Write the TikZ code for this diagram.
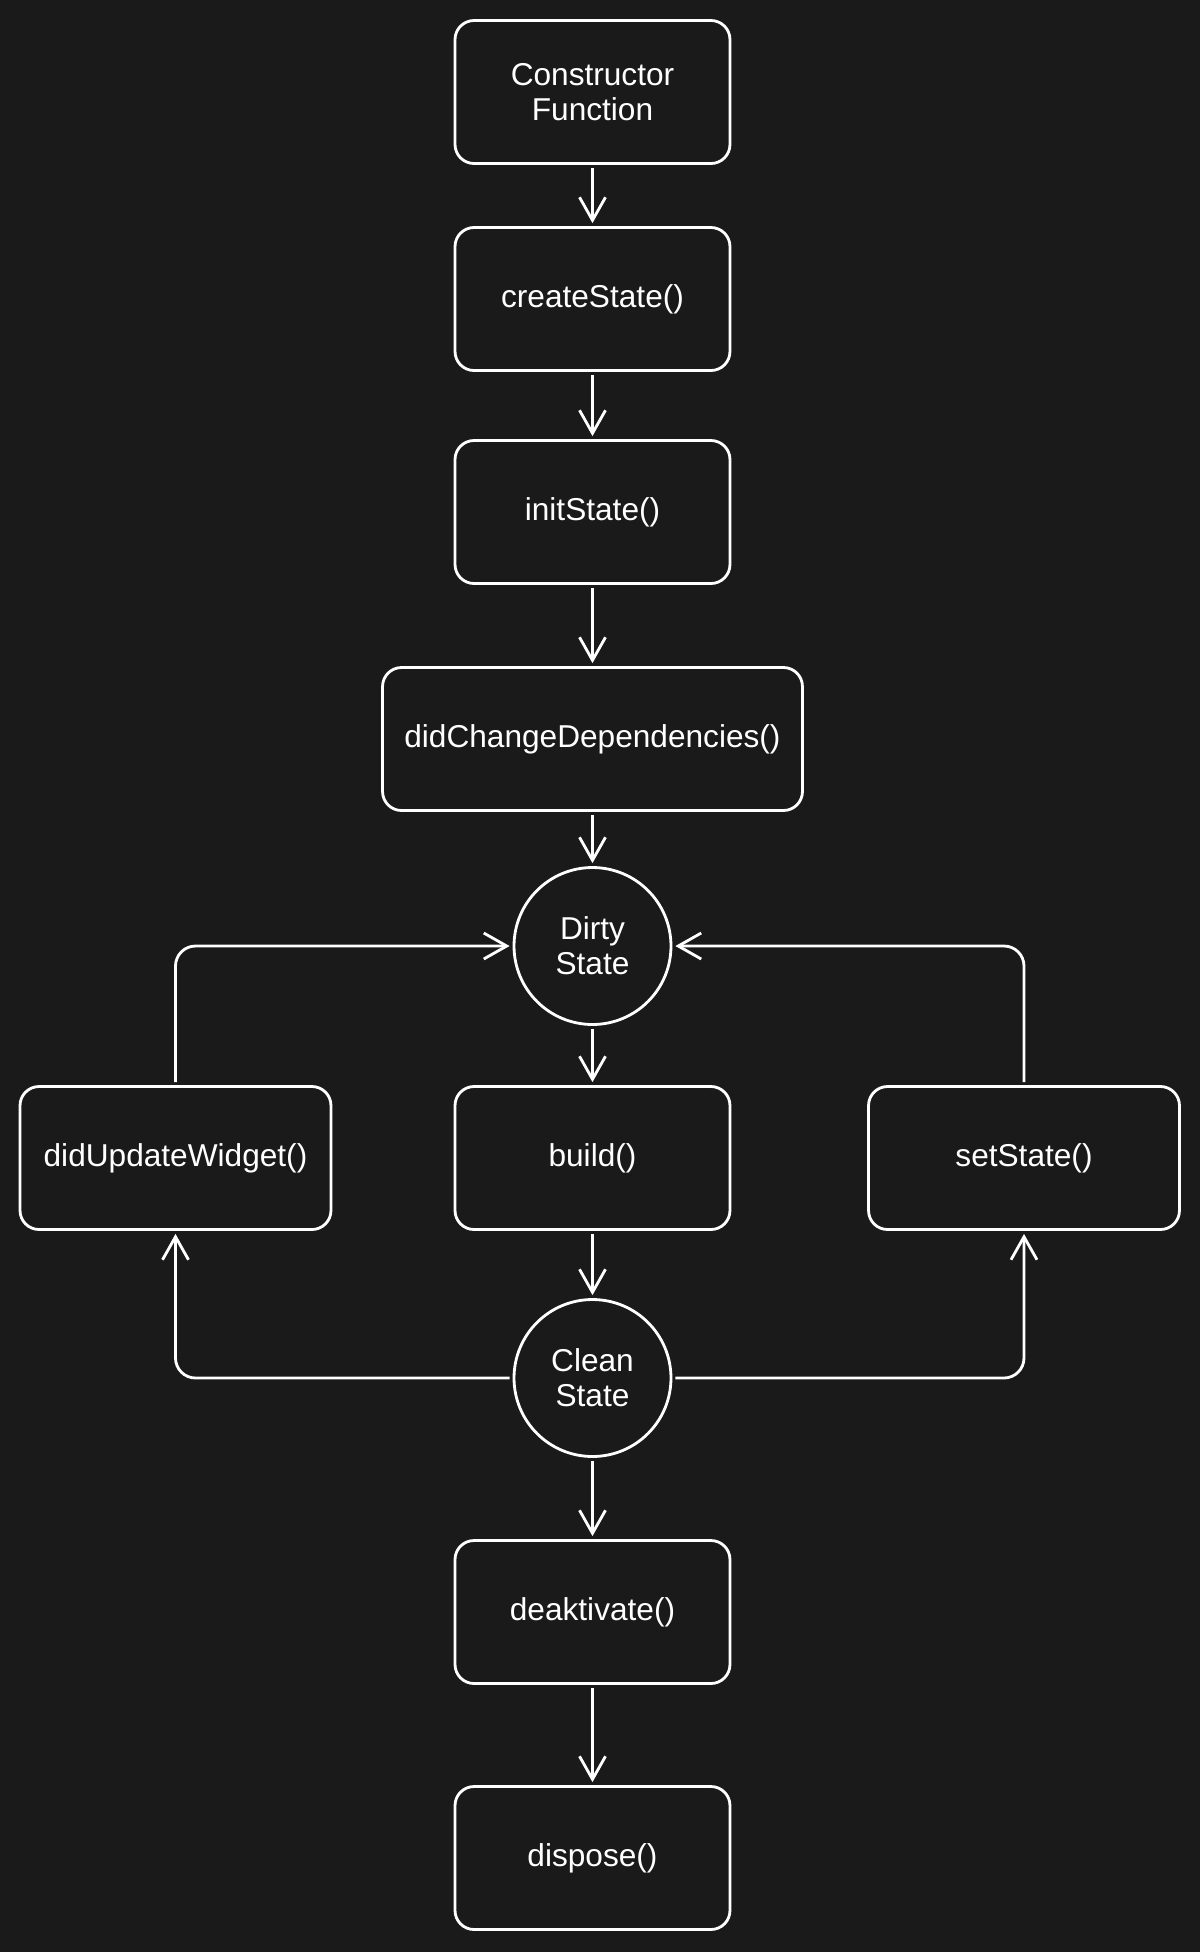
\documentclass[tikz,border=0pt]{standalone}
\usepackage{fontspec}
\setmainfont{Liberation Sans}
\usetikzlibrary{arrows.meta}
\definecolor{bgdark}{HTML}{1A1A1A}

\begin{document}
\begin{tikzpicture}[x=0.02cm, y=-0.02cm,
    every node/.style={text=white, font=\fontsize{18}{20}\selectfont},
    box/.style={draw=white, line width=1.6pt, rounded corners=0.38cm,
      minimum width=5.5cm, minimum height=2.86cm, align=center},
    statecirc/.style={draw=white, circle, line width=1.6pt,
      minimum size=3.14cm, inner sep=0pt, align=center},
    link/.style={draw=white, line width=1.6pt, rounded corners=0.4cm,
      shorten <=0.06cm, shorten >=0.06cm,
      -{Straight Barb[length=0.46cm, width=0.52cm, line width=1.6pt]}}]

      % background
      \fill[bgdark] (0,0) rectangle (1200,1952);

      % Setup chain
      \node[box] (ctor) at (592.5,92) {Constructor\\Function};
      \node[box] (create) at (592.5,299) {createState()};
      \node[box] (init) at (592.5,512) {initState()};
      \node[box, minimum width=8.4cm] (deps) at (592.5,739) {didChangeDependencies()};

      % States
      \node[statecirc] (dirty) at (592.5,946) {Dirty\\State};
      \node[statecirc] (clean) at (592.5,1378) {Clean\\State};

      % Middle row
      \node[box, minimum width=6.22cm] (update) at (175.5,1158) {didUpdateWidget()};
      \node[box] (build) at (592.5,1158) {build()};
      \node[box, minimum width=6.22cm] (setst) at (1024,1158) {setState()};

      % Teardown
      \node[box] (deact) at (592.5,1612) {deaktivate()};
      \node[box] (dispose) at (592.5,1858) {dispose()};

      % straight arrows
      \draw[link] (ctor) -- (create);
      \draw[link] (create) -- (init);
      \draw[link] (init) -- (deps);
      \draw[link] (deps) -- (dirty);
      \draw[link] (dirty) -- (build);
      \draw[link] (build) -- (clean);
      \draw[link] (clean) -- (deact);
      \draw[link] (deact) -- (dispose);

      % loops back to dirty state
      \draw[link] (update.north) |- (dirty.west);
      \draw[link] (setst.north) |- (dirty.east);
      \draw[link] (clean.west) -| (update.south);
      \draw[link] (clean.east) -| (setst.south);

\end{tikzpicture}
\end{document}
